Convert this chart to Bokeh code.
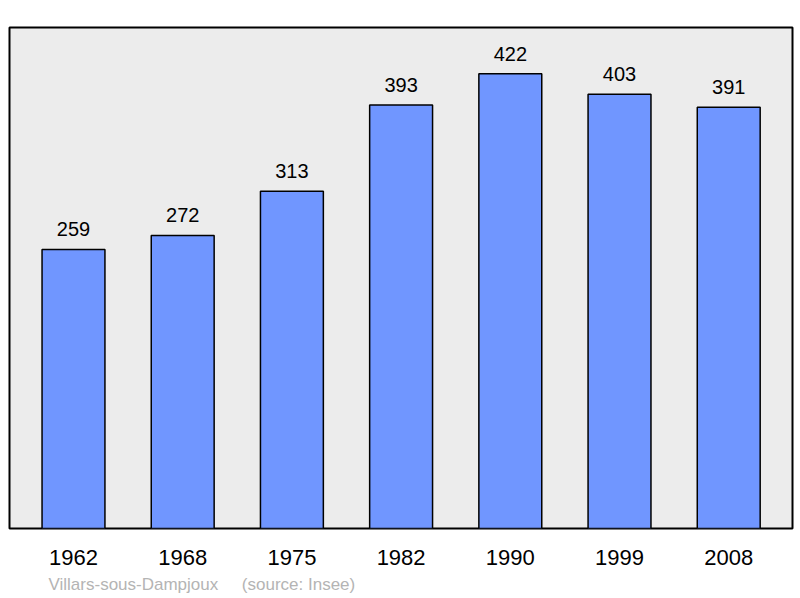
from bokeh.plotting import figure
from bokeh.models import ColumnDataSource, Range1d, FixedTicker, Title
from bokeh.embed import file_html
from bokeh.resources import INLINE
from bokeh.core.properties import value

years = ["1962", "1968", "1975", "1982", "1990", "1999", "2008"]
population = [259, 272, 313, 393, 422, 403, 391]
caption = "Villars-sous-Dampjoux\u00a0\u00a0\u00a0\u00a0\u00a0(source: Insee)"

idx = list(range(len(years)))
src = ColumnDataSource(dict(x=idx, top=population, lab=[str(v) for v in population]))

p = figure(width=800, height=598, output_backend="svg", toolbar_location=None,
           x_range=Range1d(-0.586, 6.584), y_range=Range1d(0, 465),
           min_border_left=9, min_border_right=8, min_border_top=27, min_border_bottom=0)
p.background_fill_color = "#ececec"
p.border_fill_color = "white"
p.outline_line_color = "black"
p.outline_line_width = 2
p.grid.visible = False
p.yaxis.visible = False

p.vbar(x="x", top="top", bottom=0, width=0.576, source=src,
       fill_color="#7096ff", line_color="black", line_width=1.5)
p.text(x="x", y="top", text="lab", source=src, text_align="center", text_baseline="bottom",
       y_offset=-13, text_font=value("Liberation Sans"), text_font_size="20px", text_color="black")

xa = p.xaxis[0]
xa.ticker = FixedTicker(ticks=idx)
xa.major_label_overrides = {i: y for i, y in zip(idx, years)}
xa.axis_line_color = None
xa.major_tick_line_color = None
xa.minor_tick_line_color = None
xa.major_label_text_font = "Liberation Sans"
xa.major_label_text_font_size = "22px"
xa.major_label_text_color = "black"
xa.major_label_standoff = 15

t = Title(text=caption, align="left", offset=39, text_font="Liberation Sans",
          text_font_size="17px", text_font_style="normal", text_color="#b4b4b4")
p.add_layout(t, "below")

open("out.html", "w").write(file_html(p, INLINE))
